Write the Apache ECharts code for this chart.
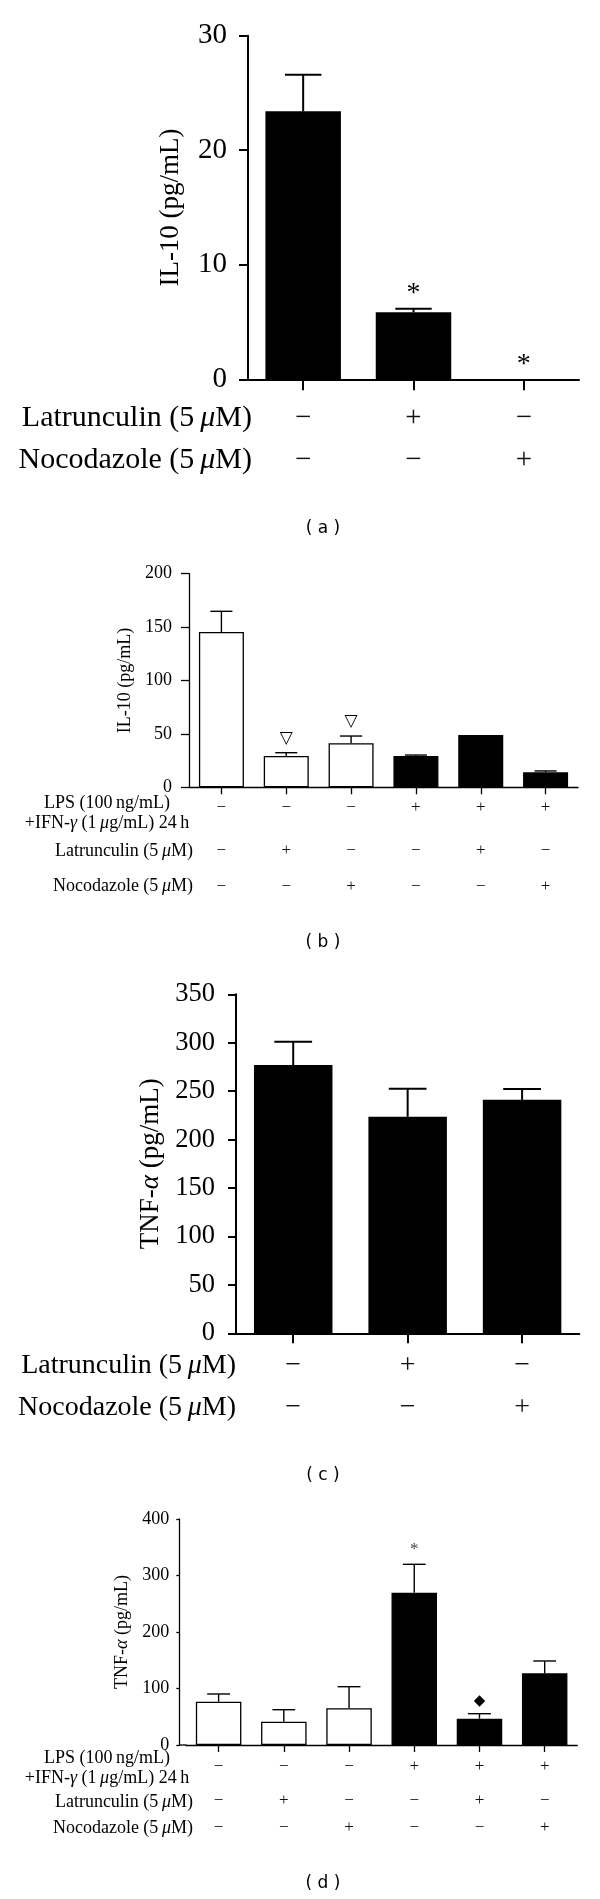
<!DOCTYPE html>
<html>
<head>
<meta charset="utf-8">
<script src="https://cdn.jsdelivr.net/npm/echarts@6/dist/echarts.min.js"></script>
<style>
  html, body { margin: 0; padding: 0; background: #fff; }
  #chart { width: 600px; height: 1899px; }
</style>
</head>
<body>
<div id="chart"></div>
<script>
// ---------------- DATA ----------------
// (a) IL-10, macrophages
const catsA = ['ctrl', 'Lat', 'Noc'];
const il10A = [23.4, 5.85, 0];
const il10ASem = [3.2, 0.3, 0];
const sigA = ['', '*', '*'];
const latA = ['−', '+', '−'];
const nocA = ['−', '−', '+'];
const ticksA = { min: 0, max: 30, interval: 10 };

// (b) IL-10 with LPS + IFN-γ
const catsB = ['1', '2', '3', '4', '5', '6'];
const il10B = [145.4, 29.3, 41.2, 29.3, 49.0, 14.0];
const il10BSem = [19.4, 3.1, 6.8, 0.9, 0, 1.3];
const sigB = ['', '▽', '▽', '', '', ''];
const lpsB = ['−', '−', '−', '+', '+', '+'];
const latB = ['−', '+', '−', '−', '+', '−'];
const nocB = ['−', '−', '+', '−', '−', '+'];
const ticksB = { min: 0, max: 200, interval: 50 };

// (c) TNF-α
const catsC = ['ctrl', 'Lat', 'Noc'];
const tnfC = [277, 223.5, 241];
const tnfCSem = [24, 29, 11.3];
const sigC = ['', '', ''];
const latC = ['−', '+', '−'];
const nocC = ['−', '−', '+'];
const ticksC = { min: 0, max: 350, interval: 50 };

// (d) TNF-α with LPS + IFN-γ
const catsD = ['1', '2', '3', '4', '5', '6'];
const tnfD = [76.6, 41.3, 65.0, 269.6, 46.6, 126.9];
const tnfDSem = [13.7, 21.2, 38.2, 50.2, 8.8, 21.8];
const sigD = ['', '', '', '*', '◆', ''];
const lpsD = ['−', '−', '−', '+', '+', '+'];
const latD = ['−', '+', '−', '−', '+', '−'];
const nocD = ['−', '−', '+', '−', '−', '+'];
const ticksD = { min: 0, max: 400, interval: 100 };

// ---------------- BUILD ----------------
const SERIF = "'Liberation Serif', 'DejaVu Serif', serif";
const SANS = "'DejaVu Sans', 'Liberation Sans', sans-serif";
const grids = [], xAxes = [], yAxes = [], series = [], graphics = [];

function panel(p) {
  const gi = grids.length;
  grids.push({ left: p.left, top: p.top, width: p.width, height: p.height });
  const xi = xAxes.length;
  xAxes.push({
    type: 'category', gridIndex: gi, data: p.cats, boundaryGap: true,
    axisLine: { show: true, onZero: false, lineStyle: { color: '#000', width: p.lw } },
    axisTick: { show: true, alignWithLabel: true, length: p.xTick, lineStyle: { color: '#000', width: p.lw } },
    axisLabel: { show: false }, splitLine: { show: false }
  });
  const bottom = p.top + p.height;
  p.rows.forEach(r => {
    xAxes.push({
      type: 'category', gridIndex: gi, data: p.cats, position: 'bottom', offset: r.y - bottom,
      axisLine: { show: false }, axisTick: { show: false }, splitLine: { show: false },
      axisLabel: {
        show: true, interval: 0, margin: 0, verticalAlign: 'middle',
        fontFamily: SERIF, fontSize: p.markSize, color: '#111',
        formatter: (v, i) => r.signs[i]
      }
    });
  });
  const yi = yAxes.length;
  yAxes.push({
    type: 'value', gridIndex: gi, min: p.ticks.min, max: p.ticks.max, interval: p.ticks.interval,
    offset: p.yOffset || 0,
    name: p.name, nameLocation: 'middle', nameGap: p.nameGap,
    nameTextStyle: {
      fontFamily: SERIF, fontSize: p.nameSize, color: '#000',
      rich: { i: { fontFamily: SERIF, fontSize: p.nameSize, fontStyle: 'italic', color: '#000' } }
    },
    axisLine: { show: true, lineStyle: { color: '#000', width: p.lw } },
    axisTick: { show: true, length: p.yTick, lineStyle: { color: '#000', width: p.lw } },
    axisLabel: { margin: p.labelMargin, fontFamily: SERIF, fontSize: p.tickSize, color: '#000' },
    splitLine: { show: false }
  });
  series.push({
    type: 'bar', xAxisIndex: xi, yAxisIndex: yi, barWidth: p.barWidth, animation: false, silent: true,
    data: p.values.map((v, i) => ({
      value: v,
      itemStyle: { color: p.filled[i] ? '#000' : '#fff', borderColor: '#000', borderWidth: p.barBorder }
    }))
  });
  series.push({
    type: 'custom', xAxisIndex: xi, yAxisIndex: yi, animation: false, silent: true, z: 5,
    data: p.values.map((v, i) => [i, v, p.sems[i]]),
    renderItem: (params, api) => {
      const i = api.value(0), v = api.value(1), s = api.value(2);
      const base = api.coord([i, v]);
      const top = api.coord([i, v + s]);
      const half = api.size([1, 0])[0] * p.capFrac / 2;
      const children = [];
      if (s > 0) {
        children.push({ type: 'line', shape: { x1: base[0], y1: base[1], x2: top[0], y2: top[1] },
          style: { stroke: '#000', lineWidth: p.errLw } });
        children.push({ type: 'line', shape: { x1: top[0] - half, y1: top[1], x2: top[0] + half, y2: top[1] },
          style: { stroke: '#000', lineWidth: p.errLw } });
      }
      const m = p.sig[params.dataIndex];
      if (m) {
        const sym = (m === '*');
        children.push({ type: 'text', x: top[0], y: top[1] - (sym ? p.starOff : p.symOff),
          style: { text: m, align: 'center', verticalAlign: 'middle',
            fontFamily: sym ? SERIF : SANS, fontSize: sym ? p.starSize : p.symSize,
            fill: sym ? p.starColor : '#000' } });
      }
      return { type: 'group', children };
    }
  });
}

const rich = (size) => ({ i: { fontFamily: SERIF, fontSize: size, fontStyle: 'italic', fill: '#000' } });
function rowLabel(text, x, y, size, align) {
  graphics.push({ type: 'text', x: x, y: y, silent: true,
    style: { text: text, align: align, verticalAlign: 'middle', fontFamily: SERIF, fontSize: size, fill: '#000', rich: rich(size) } });
}
function caption(text, y) {
  graphics.push({ type: 'text', x: 323, y: y, silent: true,
    style: { text: text, align: 'center', verticalAlign: 'middle', fontFamily: SANS, fontSize: 17, fill: '#000' } });
}

// (a)
panel({ cats: catsA, values: il10A, sems: il10ASem, sig: sigA, ticks: ticksA, filled: [1, 1, 1],
  left: 248, top: 35.7, width: 331, height: 343.6, lw: 2, xTick: 11, yTick: 9, barWidth: 75.5, barBorder: 0,
  tickSize: 29, labelMargin: 21, name: 'IL-10 (pg/mL)', nameSize: 27, nameGap: 64,
  markSize: 29, rows: [{ y: 418, signs: latA }, { y: 460, signs: nocA }],
  capFrac: 0.33, errLw: 2, starSize: 28, starOff: 15, starColor: '#000', symSize: 14, symOff: 14 });
rowLabel('Latrunculin (5\u2009{i|μ}M)', 252, 418, 30, 'right');
rowLabel('Nocodazole (5\u2009{i|μ}M)', 252, 460, 30, 'right');
caption('( a )', 529);

// (b)
panel({ cats: catsB, values: il10B, sems: il10BSem, sig: sigB, ticks: ticksB, filled: lpsB.map(s => s === '+'),
  left: 189, top: 573.7, width: 389, height: 213.6, lw: 1.3, xTick: 7, yTick: 8, barWidth: 45, barBorder: 1.3,
  tickSize: 18, labelMargin: 17, name: 'IL-10 (pg/mL)', nameSize: 18, nameGap: 50,
  markSize: 17, rows: [{ y: 808, signs: lpsB }, { y: 851, signs: latB }, { y: 887, signs: nocB }],
  capFrac: 0.34, errLw: 1.4, starSize: 17, starOff: 14, starColor: '#333', symSize: 17, symOff: 14.4 });
rowLabel('LPS (100\u2009ng/mL)', 107, 803, 18, 'center');
rowLabel('+IFN-{i|γ} (1\u2009{i|μ}g/mL) 24\u2009h', 107, 823, 18, 'center');
rowLabel('Latrunculin (5\u2009{i|μ}M)', 193, 851, 18, 'right');
rowLabel('Nocodazole (5\u2009{i|μ}M)', 193, 886, 18, 'right');
caption('( b )', 943);

// (c)
panel({ cats: catsC, values: tnfC, sems: tnfCSem, sig: sigC, ticks: ticksC, filled: [1, 1, 1],
  left: 236, top: 994.3, width: 343.3, height: 339, lw: 2, xTick: 10, yTick: 8, barWidth: 78.5, barBorder: 0,
  tickSize: 26.5, labelMargin: 21, name: 'TNF-{i|α} (pg/mL)', nameSize: 27, nameGap: 70,
  markSize: 28, rows: [{ y: 1366, signs: latC }, { y: 1408, signs: nocC }],
  capFrac: 0.33, errLw: 2, starSize: 27, starOff: 15, starColor: '#000', symSize: 14, symOff: 14 });
rowLabel('Latrunculin (5\u2009{i|μ}M)', 236, 1366, 28, 'right');
rowLabel('Nocodazole (5\u2009{i|μ}M)', 236, 1408, 28, 'right');
caption('( c )', 1476);

// (d)
panel({ cats: catsD, values: tnfD, sems: tnfDSem, sig: sigD, ticks: ticksD, filled: lpsD.map(s => s === '+'),
  left: 186, top: 1519, width: 391.3, height: 226, yOffset: 6.7, lw: 1.3, xTick: 7, yTick: 3, barWidth: 45.5, barBorder: 1.3,
  tickSize: 18, labelMargin: 10, name: 'TNF-{i|α} (pg/mL)', nameSize: 18, nameGap: 41,
  markSize: 17, rows: [{ y: 1767, signs: lpsD }, { y: 1801, signs: latD }, { y: 1828, signs: nocD }],
  capFrac: 0.35, errLw: 1.4, starSize: 17, starOff: 15, starColor: '#444', symSize: 15, symOff: 12.7 });
// x-axis line continues left to the offset y-axis
graphics.push({ type: 'line', silent: true, shape: { x1: 179, y1: 1745, x2: 186.5, y2: 1745 }, style: { stroke: '#000', lineWidth: 1.3 } });
rowLabel('LPS (100\u2009ng/mL)', 107, 1758, 18, 'center');
rowLabel('+IFN-{i|γ} (1\u2009{i|μ}g/mL) 24\u2009h', 107, 1778, 18, 'center');
rowLabel('Latrunculin (5\u2009{i|μ}M)', 193, 1802, 18, 'right');
rowLabel('Nocodazole (5\u2009{i|μ}M)', 193, 1828, 18, 'right');
caption('( d )', 1884);

const chart = echarts.init(document.getElementById('chart'), null, { renderer: 'canvas' });
chart.setOption({
  backgroundColor: '#fff',
  animation: false,
  grid: grids,
  xAxis: xAxes,
  yAxis: yAxes,
  series: series,
  graphic: graphics
});
</script>
</body>
</html>
